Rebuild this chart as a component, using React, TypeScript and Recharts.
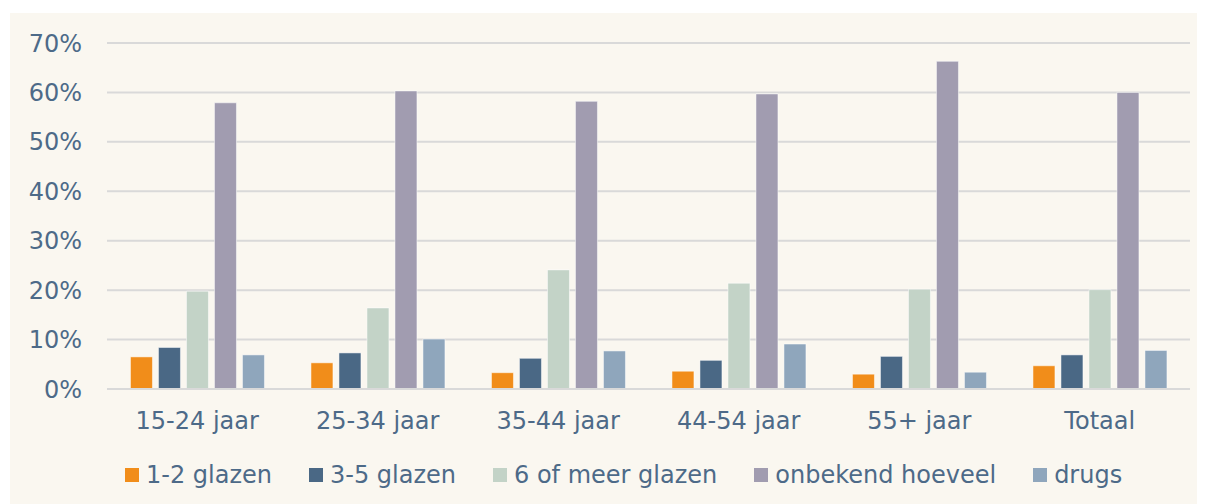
import { BarChart, Bar, XAxis, YAxis, CartesianGrid, Legend } from "recharts";

const categories = ["15-24 jaar", "25-34 jaar", "35-44 jaar", "44-54 jaar", "55+ jaar", "Totaal"];
const glazen12 = [6.5, 5.3, 3.3, 3.6, 3.0, 4.7];
const glazen35 = [8.4, 7.3, 6.2, 5.8, 6.6, 6.9];
const glazen6 = [19.8, 16.4, 24.1, 21.4, 20.2, 20.1];
const onbekend = [57.9, 60.3, 58.2, 59.7, 66.3, 60.0];
const drugs = [6.9, 10.1, 7.7, 9.1, 3.4, 7.8];
const yTicks = [0, 10, 20, 30, 40, 50, 60, 70];

const SERIES = [
  { key: "g12", name: "1-2 glazen", color: "#F18D1A" },
  { key: "g35", name: "3-5 glazen", color: "#4A6885" },
  { key: "g6", name: "6 of meer glazen", color: "#C3D3C7" },
  { key: "onb", name: "onbekend hoeveel", color: "#A19CB0" },
  { key: "drugs", name: "drugs", color: "#8FA6BC" },
];

const TEXT = "#4D6A88";
const FONT = "'DejaVu Sans', Verdana, sans-serif";

const data = categories.map((c, i) => ({
  cat: c,
  g12: glazen12[i],
  g35: glazen35[i],
  g6: glazen6[i],
  onb: onbekend[i],
  drugs: drugs[i],
}));

function LegendContent() {
  return (
    <div
      style={{
        display: "flex",
        height: 30,
        alignItems: "center",
        paddingLeft: 115,
        fontFamily: FONT,
        fontSize: 24,
        color: TEXT,
      }}
    >
      {SERIES.map((s) => (
        <div key={s.key} style={{ display: "flex", alignItems: "center", marginRight: 37 }}>
          <span style={{ width: 14, height: 14, background: s.color, display: "inline-block", marginRight: 7 }} />
          <span>{s.name}</span>
        </div>
      ))}
    </div>
  );
}

export default function App() {
  return (
    <div style={{ marginLeft: 2, marginTop: 5, width: 1190, height: 491, background: "#FAF7F0" }}>
      <BarChart
        width={1190}
        height={491}
        data={data}
        margin={{ top: 30, right: 10, bottom: 25, left: 0 }}
        barCategoryGap="13%"
        barGap={6}
      >
        <CartesianGrid vertical={false} stroke="#D9D9D9" strokeWidth={2} />
        <XAxis
          dataKey="cat"
          tickLine={false}
          tickSize={0}
          tickMargin={23}
          axisLine={{ stroke: "#D9D9D9", strokeWidth: 2 }}
          tick={{ fill: TEXT, fontSize: 24, fontFamily: FONT }}
          height={60}
        />
        <YAxis
          domain={[0, 70]}
          ticks={yTicks}
          tickFormatter={(v: number) => `${v}%`}
          axisLine={false}
          tickLine={false}
          tickSize={0}
          tickMargin={25}
          width={97}
          tick={{ fill: TEXT, fontSize: 24, fontFamily: FONT }}
        />
        <Legend content={<LegendContent />} verticalAlign="bottom" wrapperStyle={{ bottom: 14, left: 0, width: 1190 }} />
        {SERIES.map((s) => (
          <Bar
            key={s.key}
            dataKey={s.key}
            name={s.name}
            fill={s.color}
            stroke="#FFFFFF"
            strokeOpacity={0.5}
            strokeWidth={1}
            isAnimationActive={false}
          />
        ))}
      </BarChart>
    </div>
  );
}
